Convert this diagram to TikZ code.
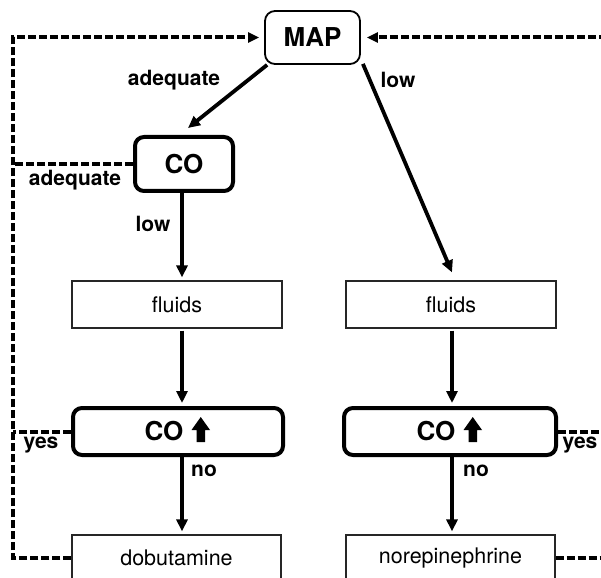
\documentclass[tikz,border=0pt]{standalone}
\usepackage{fontspec}
\setmainfont{TeX Gyre Heros}
\usetikzlibrary{arrows.meta,calc}
\tikzset{
  thinbox/.style={draw=black!85,line width=1.2pt,rectangle,minimum width=210pt,minimum height=47pt,inner sep=0pt,font=\fontsize{21.5}{24}\selectfont},
  thickbox/.style={draw,line width=4pt,rounded corners=9pt,rectangle,inner sep=0pt,font=\fontsize{26}{30}\selectfont\bfseries},
  arr/.style={line width=3.8pt,-{Triangle[length=12pt,width=11pt]}},
  dsh/.style={line width=4pt,dash pattern=on 8pt off 3pt},
  dsharr/.style={dsh,-{Triangle[length=11pt,width=10pt]}},
  lbl/.style={font=\fontsize{21}{24}\selectfont\bfseries,inner sep=0pt},
}
\newcommand\upblk[1]{\fill[shift={(#1.center)}] (13.5,-1.5) -- (22.75,-14.5) -- (32,-1.5) -- (27,-1.5) -- (27,10.5) -- (18.5,10.5) -- (18.5,-1.5) -- cycle;}
\begin{document}
\begin{tikzpicture}[x=1pt,y=-1pt]
\useasboundingbox (0,0) rectangle (601,577);
\clip (0,0) rectangle (601,577);
% nodes
\node[draw,line width=1.8pt,rounded corners=10pt,minimum width=95pt,minimum height=53pt,inner sep=0pt,font=\fontsize{26}{30}\selectfont\bfseries] (MAP) at (312.5,37.5) {MAP};
\node[thickbox,minimum width=98pt,minimum height=54pt] (CO) at (184,164) {CO};
\node[thinbox] (fluidsL) at (177,304.5) {fluids};
\node[thinbox] (fluidsR) at (451,304.5) {fluids};
\node[thickbox,minimum width=210pt,minimum height=47pt] (coupL) at (178,431.5) {CO\kern28pt};
\node[thickbox,minimum width=212pt,minimum height=47pt] (coupR) at (450,431.5) {CO\kern28pt};
\upblk{coupL}
\upblk{coupR}
\node[thinbox,minimum width=209pt,minimum height=46pt] (dobu) at (176.5,558) {dobutamine};
\node[thinbox,minimum width=209pt,minimum height=46pt] (norep) at (450.5,558) {norepinephrine};
% columns
\coordinate (xL) at (182,0);
\coordinate (xR) at (452,0);
\coordinate (lx) at (13,0);
\coordinate (rx) at (640,0);
% solid arrows
\draw[arr] ($(MAP.south west)+(3,0)$) -- ($(CO.north)+(4,-7)$);
\draw[arr] ($(MAP.south east)+(2,-1)$) -- ($(fluidsR.north -| xR)+(0,-8)$);
\draw[arr,shorten >=3pt] (CO.south -| xL) -- (fluidsL.north -| xL);
\draw[arr,shorten <=2pt,shorten >=3pt] (fluidsL.south -| xL) -- (coupL.north -| xL);
\draw[arr,shorten <=2pt,shorten >=3pt] (fluidsR.south -| xR) -- (coupR.north -| xR);
\draw[arr,shorten >=3pt] (coupL.south -| xL) -- (dobu.north -| xL);
\draw[arr,shorten >=3pt] (coupR.south -| xR) -- (norep.north -| xR);
% dashed feedback loops
\draw[dsharr,shorten >=5pt] (dobu.west) -- (dobu.west -| lx) -- (MAP.west -| lx) -- (MAP.west);
\draw[dsh] (CO.west) -- (CO.west -| lx);
\draw[dsh] (coupL.west) -- (coupL.west -| lx);
\draw[dsharr,shorten >=6pt] (norep.east) -- (norep.east -| rx) -- (MAP.east -| rx) -- (MAP.east);
\draw[dsh] (coupR.east) -- (coupR.east -| rx);
% labels
\node[lbl] (l1) at (174,80) {adequate};
\node[lbl] (l2) at (398,80) {low};
\node[lbl] (l3) at (75,180) {adequate};
\node[lbl] (l4) at (153,224) {low};
\node[lbl] (l5) at (41,445) {yes};
\node[lbl] (l6) at (580,445) {yes};
\node[lbl] (l7) at (204,471) {no};
\node[lbl] (l8) at (476,471) {no};
\end{tikzpicture}
\end{document}
